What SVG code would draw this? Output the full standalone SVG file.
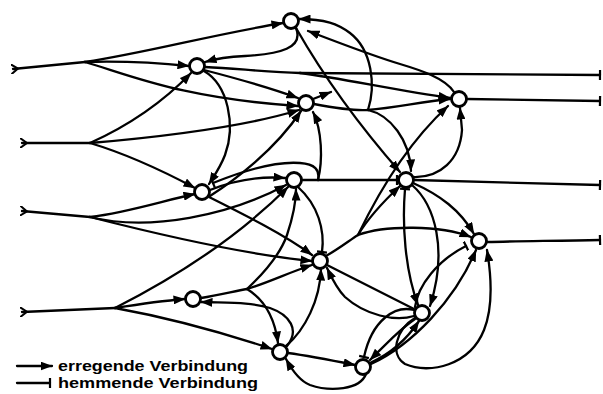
<svg xmlns="http://www.w3.org/2000/svg" width="603" height="394" viewBox="0 0 603 394">
<style>
.c{fill:none;stroke:#000;stroke-width:2.3;stroke-linecap:round}
.e{marker-end:url(#a)}
.h{marker-end:url(#t)}
.i{marker-start:url(#in)}
.n{fill:#fff;stroke:#000;stroke-width:2.8}
.lbl{font-family:"Liberation Sans",Arial,sans-serif;font-weight:bold;font-size:15px;fill:#000}
</style>
<defs>
<marker id="a" viewBox="0 0 12 9" refX="11.5" refY="4.5" markerWidth="12" markerHeight="9" markerUnits="userSpaceOnUse" orient="auto"><path d="M0,0 L12,4.5 L0,9 z" fill="#000"/></marker>
<marker id="t" viewBox="0 0 4 10" refX="2" refY="5" markerWidth="4" markerHeight="10" markerUnits="userSpaceOnUse" orient="auto"><path d="M2,0 V10" stroke="#000" stroke-width="2.2"/></marker>
<marker id="in" viewBox="0 0 8 10" refX="2" refY="5" markerWidth="8" markerHeight="10" markerUnits="userSpaceOnUse" orient="auto"><path d="M0,0 L7,5 L0,10" fill="none" stroke="#000" stroke-width="2"/></marker>
</defs>
<g id="connectors">
<!-- inputs -->
<path class="c i" d="M13,69 L85,62"/>
<path class="c e" d="M85,62 C150,52 210,35 283,23"/>
<path class="c e" d="M85,62 C120,61 160,63 189,66"/>
<path class="c e" d="M85,62 C130,75 180,98 298,106"/>
<path class="c i" d="M22,143 L90,143"/>
<path class="c e" d="M90,143 C130,125 165,100 191,73"/>
<path class="c e" d="M90,143 C160,137 240,128 299,110"/>
<path class="c e" d="M90,143 C130,155 165,172 195,188"/>
<path class="c i" d="M22,211 L90,217"/>
<path class="c e" d="M90,217 C130,212 165,200 195,194"/>
<path class="c e" d="M90,217 C150,232 230,215 286,185"/>
<path class="c e" d="M90,217 C180,240 250,255 312,261"/>
<path class="c i" d="M22,312 L115,308"/>
<path class="c e" d="M115,308 C180,275 240,235 288,187"/>
<path class="c e" d="M115,308 C140,304 160,301 185,299"/>
<path class="c e" d="M115,308 C170,318 230,335 272,349"/>
<!-- N1 -->
<path class="c e" d="M296,28 C304,48 280,54 245,56 C225,57 215,59 205,62"/>
<path class="c e" d="M296,28 C320,70 350,115 400,172"/>
<!-- N2 -->
<path class="c" d="M205,67 C240,69 270,72 300,73"/>
<path class="c h" d="M300,73 L600,75"/>
<path class="c e" d="M300,73 C340,78 395,90 450,98"/>
<path class="c e" d="M204,70 C235,78 265,86 298,98"/>
<path class="c e" d="M204,71 C228,85 236,125 225,155 C220,168 214,176 209,184"/>
<!-- N3 -->
<path class="c" d="M314,104 C335,108 355,111 368,110"/>
<path class="c e" d="M368,110 C395,108 420,102 450,99"/>
<path class="c e" d="M368,110 C376,85 372,50 350,33 C338,24 325,19 299,19"/>
<path class="c e" d="M368,110 C390,115 410,140 411,171"/>
<path class="c e" d="M313,99 L331,92"/>
<!-- N4 -->
<path class="c e" d="M454,92 C445,78 420,70 400,64 C370,55 340,43 308,31"/>
<path class="c h" d="M467,99 L600,101"/>
<!-- N5 -->
<path class="c e" d="M210,190 C235,180 260,176 285,178"/>
<path class="c e" d="M210,196 C235,180 275,150 301,111"/>
<path class="c e" d="M209,197 C245,215 285,235 312,255"/>
<!-- N6 -->
<path class="c h" d="M302,180 L397,180"/>
<path class="c h" d="M318,180 C320,170 315,164 300,163 C275,161 245,170 213,183"/>
<path class="c e" d="M318,180 C323,160 322,130 313,112"/>
<path class="c h" d="M298,187 C318,205 325,230 322,252"/>
<!-- N7 -->
<path class="c e" d="M413,177 C440,178 460,160 462,130 L460,108"/>
<path class="c h" d="M414,180 C450,181 520,183 600,185"/>
<path class="c e" d="M413,183 C440,195 460,210 474,234"/>
<path class="c e" style="marker-start:url(#t)" d="M405,189 C402,225 405,270 418,305"/>
<path class="c e" d="M412,185 C435,205 448,250 430,306"/>
<!-- N8 -->
<path class="c h" d="M487,242 C520,241 560,241 600,240"/>
<!-- N9 -->
<path class="c" d="M326,256 C340,248 350,240 358,235"/>
<path class="c e" d="M358,235 C370,215 385,200 400,186"/>
<path class="c e" d="M358,235 C370,210 400,150 448,106"/>
<path class="c e" d="M358,235 C385,225 440,225 471,237"/>
<path class="c" d="M327,265 L414,309"/>
<!-- N10 -->
<path class="c" d="M201,298 C220,295 235,291 247,289"/>
<path class="c e" d="M247,289 C270,282 290,272 312,265"/>
<path class="c e" d="M247,289 C265,300 275,320 278,343"/>
<path class="c e" d="M247,289 C262,275 280,255 287,235 C292,220 296,205 296,189"/>
<!-- N11 -->
<path class="c e" d="M414,316 C395,322 365,315 345,297 C338,290 334,283 327,268"/>
<path class="c h" d="M415,307 C418,285 438,260 466,246"/>
<path class="c h" d="M414,310 C395,305 372,320 364,357"/>
<path class="c e" d="M415,319 C402,328 390,340 370,360"/>
<path class="c e" d="M415,318 C395,330 390,355 405,364 C430,375 470,365 484,330 C492,310 492,280 487,250"/>
<!-- N12 -->
<path class="c e" d="M287,346 C300,330 290,315 270,308 C250,302 230,303 201,302"/>
<path class="c e" d="M286,346 C305,330 320,300 321,269"/>
<path class="c e" d="M288,353 C310,356 330,360 355,365"/>
<!-- N13 -->
<path class="c e" d="M366,374 C360,390 330,392 310,385 C300,381 293,372 286,359"/>
<path class="c e" d="M370,363 C388,355 405,342 419,321"/>
<path class="c e" d="M371,364 C412,345 455,300 476,250"/>
<!-- legend -->
<path class="c e" d="M17,366 L52,366"/>
<path class="c h" d="M17,383 L50,383"/>
</g>
<g id="n1"><circle class="n" cx="291" cy="21" r="7.5"/></g>
<g id="n2"><circle class="n" cx="197" cy="66" r="7.5"/></g>
<g id="n3"><circle class="n" cx="306" cy="103" r="7.5"/></g>
<g id="n4"><circle class="n" cx="459" cy="99" r="7.5"/></g>
<g id="n5"><circle class="n" cx="202" cy="192" r="7.5"/></g>
<g id="n6"><circle class="n" cx="294" cy="180" r="7.5"/></g>
<g id="n7"><circle class="n" cx="406" cy="180" r="7.5"/></g>
<g id="n8"><circle class="n" cx="479" cy="241" r="7.5"/></g>
<g id="n9"><circle class="n" cx="320" cy="261" r="7.5"/></g>
<g id="n10"><circle class="n" cx="193" cy="299" r="7.5"/></g>
<g id="n11"><circle class="n" cx="422" cy="313" r="7.5"/></g>
<g id="n12"><circle class="n" cx="280" cy="352" r="7.5"/></g>
<g id="n13"><circle class="n" cx="363" cy="367" r="7.5"/></g>
<g id="legend">
<text class="lbl" x="58" y="371" textLength="190" lengthAdjust="spacingAndGlyphs">erregende Verbindung</text>
<text class="lbl" x="58" y="388" textLength="200" lengthAdjust="spacingAndGlyphs">hemmende Verbindung</text>
</g>
</svg>
